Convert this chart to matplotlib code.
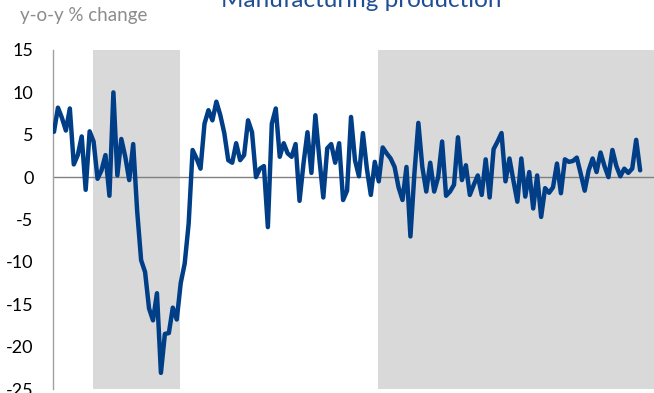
import matplotlib
matplotlib.use('Agg')
import matplotlib.pyplot as plt
import numpy as np

# y-o-y % change in manufacturing production, monthly
prod = [5.35, 8.2, 7.0, 5.5, 8.1, 1.5, 2.6, 4.8, -1.5, 5.4,
        4.2, -0.2, 0.8, 2.6, -2.2, 10.0, 0.2, 4.5, 2.4, -0.35,
        3.9, -4.0, -9.8, -11.2, -15.5, -16.9, -13.7, -23.1, -18.5, -18.4,
        -15.4, -16.8, -12.5, -10.2, -5.5, 3.2, 2.2, 1.0, 6.3, 7.9,
        6.7, 8.9, 7.3, 5.2, 2.0, 1.7, 4.0, 2.0, 2.6, 6.7,
        5.3, 0.0, 1.0, 1.3, -5.9, 6.3, 8.1, 2.4, 4.0, 2.8,
        2.4, 3.9, -2.8, 1.6, 5.3, 0.5, 7.3, 2.2, -2.4, 3.4,
        3.9, 1.7, 4.0, -2.7, -1.6, 7.1, 2.0, 0.1, 5.2, 1.0,
        -2.1, 1.8, -0.5, 3.5, 2.8, 2.2, 1.2, -1.2, -2.7, 1.2,
        -7.0, 0.4, 6.4, 1.2, -1.7, 1.7, -1.7, 0.0, 4.2, -2.2,
        -1.7, -0.9, 4.7, -0.35, 1.4, -2.1, -0.9, 0.2, -2.1, 2.1,
        -2.4, 3.3, 4.2, 5.2, -0.5, 2.2, -0.4, -2.9, 2.2, -2.3,
        0.6, -3.7, 0.2, -4.7, -1.3, -1.85, -1.2, 1.6, -1.9, 2.1,
        1.8, 1.9, 2.3, 0.4, -1.6, 0.8, 2.2, 0.6, 2.9, 1.3,
        0.0, 3.2, 1.3, 0.1, 1.0, 0.5, 1.0, 4.4, 0.8]

# shaded periods (month index)
shade = [(9.8, 31.7), (81.9, 151.5)]
yticks = [15, 10, 5, 0, -5, -10, -15, -20, -25]

font = 'Lato'
blue = '#003F87'

fig = plt.figure(figsize=(6.54, 3.93), dpi=100)
ax = fig.add_axes([53/654, 4/393, 601/654, 339/393])

x = np.arange(len(prod))
for a, b in shade:
    ax.axvspan(a, b, color='#D9D9D9', lw=0, zorder=0)
ax.axhline(0, color='#808080', lw=1.0, zorder=1)
ax.plot(x, prod, color=blue, lw=3.2, solid_joinstyle='round', solid_capstyle='round', zorder=3)

ax.set_xlim(-0.25, 151.5)
ax.set_ylim(-25, 15)
ax.set_yticks(yticks)
ax.set_yticklabels([str(t) for t in yticks], fontsize=13, family=font)
ax.tick_params(axis='y', length=0, pad=14)
ax.set_xticks([])
for s in ['top', 'right', 'bottom']:
    ax.spines[s].set_visible(False)
ax.spines['left'].set_color('#A0A0A0')
ax.spines['left'].set_linewidth(1.0)

fig.text(0.552, 1 - 7/393, 'Manufacturing production', ha='center', va='baseline',
         fontsize=17.5, color='#1F4E96', family=font)
fig.text(20/654, 1 - 15/393, 'y-o-y % change', ha='left', va='center',
         fontsize=13.5, color='#8C8C8C', family=font)

fig.savefig('out.png', dpi=100)
